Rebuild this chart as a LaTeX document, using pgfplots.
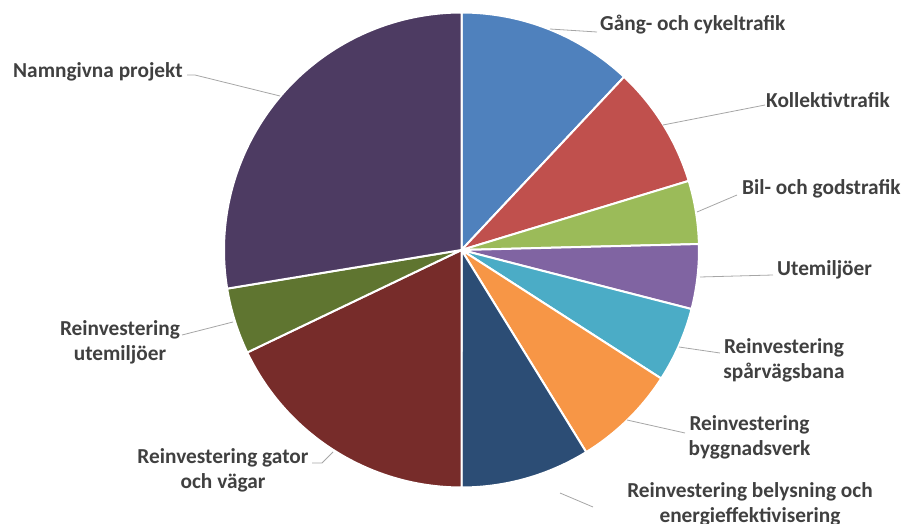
\documentclass[border=0pt]{standalone}
\usepackage{fontspec}
\setmainfont{Carlito}
\usepackage{pgfplots}
\usepackage{pgfplotstable}
\pgfplotsset{compat=1.18}

\definecolor{c1}{HTML}{4F81BD}
\definecolor{c2}{HTML}{C0504D}
\definecolor{c3}{HTML}{9BBB59}
\definecolor{c4}{HTML}{8064A2}
\definecolor{c5}{HTML}{4BACC6}
\definecolor{c6}{HTML}{F79646}
\definecolor{c7}{HTML}{2C4D75}
\definecolor{c8}{HTML}{772C2A}
\definecolor{c9}{HTML}{5F7530}
\definecolor{c10}{HTML}{4D3B62}
\definecolor{txt}{HTML}{404040}
\definecolor{leader}{HTML}{A6A6A6}

% share in percent, clockwise from twelve o'clock
\pgfplotstableread[col sep=comma]{
share,colour
12.0,c1
8.3,c2
4.3,c3
4.4,c4
5.1,c5
7.1,c6
8.8,c7
17.9,c8
4.5,c9
27.6,c10
}\piedata

\tikzset{lbl/.style={font=\bfseries\fontsize{21.4}{25}\selectfont, text=txt, inner sep=0pt}}

\begin{document}
\begin{tikzpicture}
\useasboundingbox (0,0) rectangle (901bp,524bp);
\begin{axis}[
  at={(0,0)}, anchor=origin,
  x=1bp, y=1bp,
  xmin=0, xmax=901, ymin=0, ymax=524,
  hide axis, clip=false,
]
\def\startang{90}
\pgfplotsforeachungrouped \i in {0,...,9}{%
  \pgfplotstablegetelem{\i}{share}\of\piedata
  \let\sh\pgfplotsretval
  \pgfplotstablegetelem{\i}{colour}\of\piedata
  \let\col\pgfplotsretval
  \pgfmathsetmacro\endang{\startang-3.6*\sh}
  \pgfmathsetmacro\xs{461.5+237.5*cos(\startang)}
  \pgfmathsetmacro\ys{274+237.5*sin(\startang)}
  \edef\slice{\noexpand\fill[fill=\col, draw=white, line width=2bp, line join=round]
    (axis cs:461.5,274) -- (axis cs:\xs,\ys)
    arc[start angle=\startang, end angle=\endang, radius=237.5bp] -- cycle;}
  \slice
  \xdef\startang{\endang}
}

% leader lines
\draw[leader, line width=0.8bp] (axis cs:550,495) -- (axis cs:597,492);
\draw[leader, line width=0.8bp] (axis cs:663,399) -- (axis cs:765,419);
\draw[leader, line width=0.8bp] (axis cs:697,312) -- (axis cs:737,329);
\draw[leader, line width=0.8bp] (axis cs:700,247) -- (axis cs:773,249);
\draw[leader, line width=0.8bp] (axis cs:679,177) -- (axis cs:720,171);
\draw[leader, line width=0.8bp] (axis cs:627,104) -- (axis cs:685,91);
\draw[leader, line width=0.8bp] (axis cs:560,31) -- (axis cs:593,17);
\draw[leader, line width=0.8bp] (axis cs:333,72) -- (axis cs:322,61) -- (axis cs:312,61);
\draw[leader, line width=0.8bp] (axis cs:233,202) -- (axis cs:182,189);
\draw[leader, line width=0.8bp] (axis cs:280,428) -- (axis cs:195,449) -- (axis cs:187,449);

% labels
\node[lbl, anchor=west] at (axis cs:600,499) {Gång- och cykeltrafik};
\node[lbl, anchor=west] at (axis cs:766,424) {Kollektivtrafik};
\node[lbl, anchor=west] at (axis cs:742,335) {Bil- och godstrafik};
\node[lbl, anchor=west] at (axis cs:777,254) {Utemiljöer};
\node[lbl, align=center] at (axis cs:784,163.5) {Reinvestering\\spårvägsbana};
\node[lbl, align=center] at (axis cs:749.5,86.5) {Reinvestering\\byggnadsverk};
\node[lbl, align=center] at (axis cs:750,19.5) {Reinvestering belysning och\\energieffektivisering};
\node[lbl, align=center] at (axis cs:223,53.5) {Reinvestering gator\\och vägar};
\node[lbl, align=center] at (axis cs:120,181.5) {Reinvestering\\utemiljöer};
\node[lbl, anchor=west] at (axis cs:13,452) {Namngivna projekt};
\end{axis}
\end{tikzpicture}
\end{document}
